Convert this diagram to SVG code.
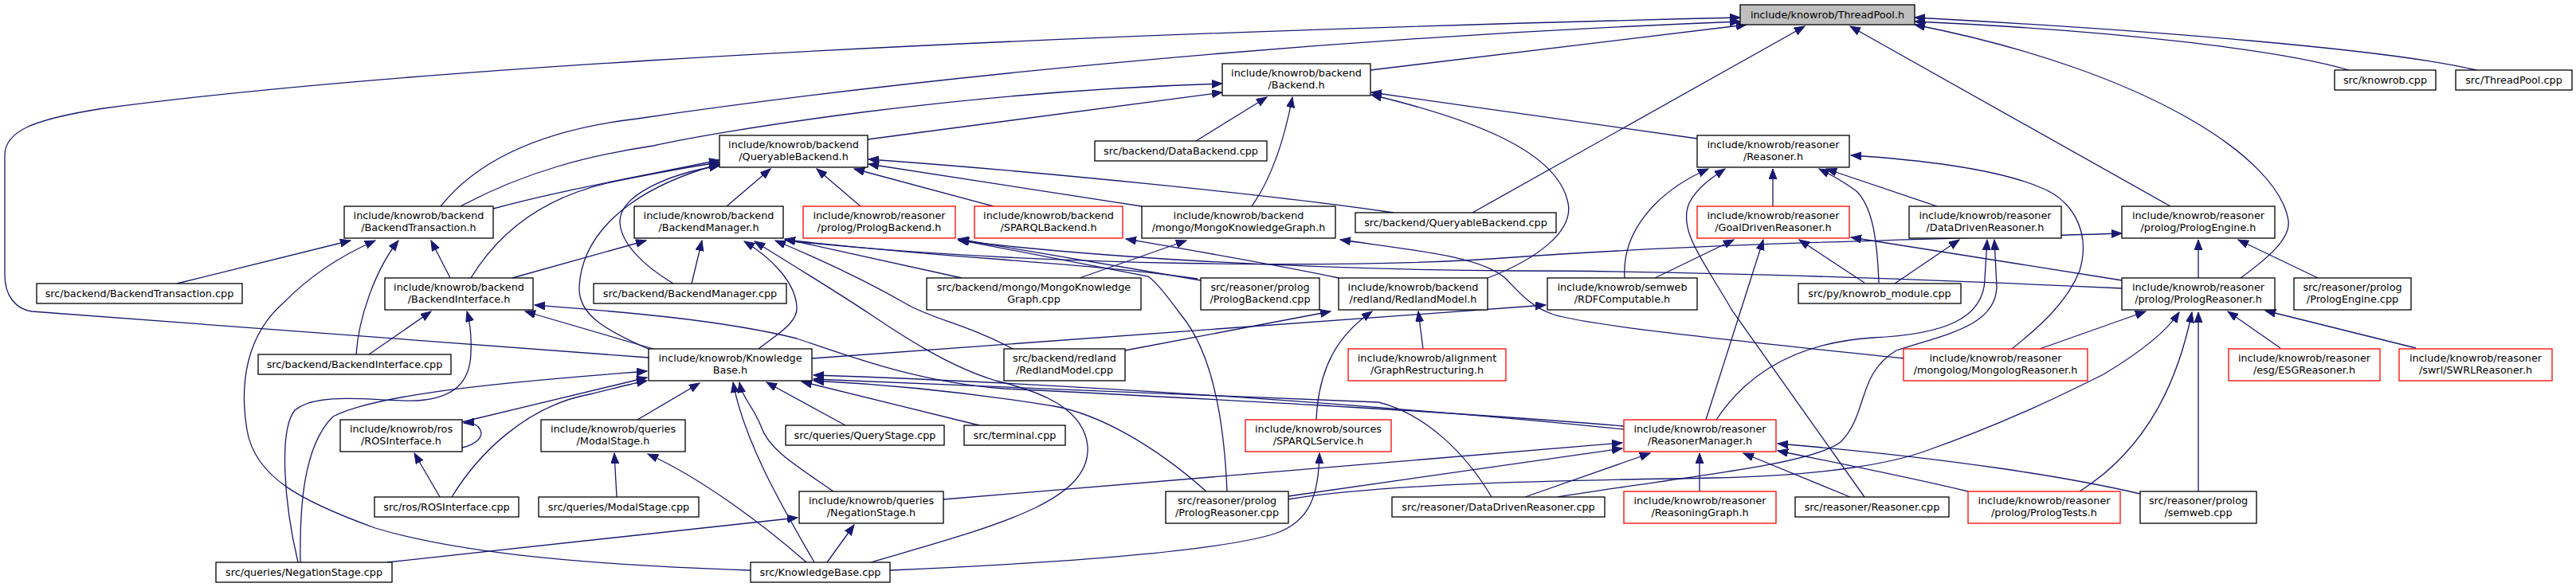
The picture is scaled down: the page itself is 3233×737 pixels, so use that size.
<svg xmlns="http://www.w3.org/2000/svg" width="3233" height="737" viewBox="0 0 3233 737">
<style>
.n rect{fill:#fff;stroke:#000;stroke-width:1.3}
.n.r rect{stroke:#f00}
.n.root rect{fill:#bfbfbf}
.n text{font-family:"DejaVu Sans",sans-serif;font-size:12.8px;text-anchor:middle;fill:#000}
#edges path{fill:none;stroke:#191970;stroke-width:1.3;marker-end:url(#a)}
</style>
<defs>
<marker id="a" markerUnits="userSpaceOnUse" markerWidth="14" markerHeight="11" refX="13" refY="5" orient="auto">
<path d="M0,0 L13,5 L0,10 Z" fill="#191970" stroke="#191970" stroke-width="1"/>
</marker>
</defs>
<rect width="3233" height="737" fill="#fff"/>
<g id="edges">
<path d="M814,449 L40,391 C20,388 6,372 6,345 L6,195 C6,165 40,150 130,136 C400,100 1000,50 2184,22"/>
<path d="M553,259 C600,200 680,163 800,149 C1100,105 1600,50 2184,27"/>
<path d="M1720,88 L2192,31"/>
<path d="M1848,267 L2265,33"/>
<path d="M2724,259 L2322,33"/>
<path d="M3108,88 C3000,62 2700,38 2403,22"/>
<path d="M2948,88 C2860,62 2650,38 2403,27"/>
<path d="M2812,349 C2845,325 2875,300 2872,277 C2860,200 2700,90 2403,31"/>
<path d="M578,259 C660,215 740,195 820,183 C900,165 1200,115 1534,105"/>
<path d="M1089,175 L1534,116"/>
<path d="M1501,177 L1590,122"/>
<path d="M1571,259 C1595,225 1612,175 1622,122"/>
<path d="M2130,174 L1721,116"/>
<path d="M1867,349 C1930,325 1975,290 1968,255 C1955,190 1850,150 1721,119"/>
<path d="M619,262 C700,240 800,222 903,201"/>
<path d="M912,259 L967,212"/>
<path d="M1080,259 L1025,212"/>
<path d="M1247,259 L1072,212"/>
<path d="M1433,259 L1090,206"/>
<path d="M1749,267 C1600,245 1300,215 1090,200"/>
<path d="M591,349 C630,285 690,245 770,228 C820,218 860,210 903,204"/>
<path d="M818,440 C760,415 725,395 727,360 C730,300 780,240 903,206"/>
<path d="M845,356 C805,332 780,305 778,280 C776,245 840,218 903,208"/>
<path d="M222,356 L440,302"/>
<path d="M942,716 C700,708 560,690 471,663 C380,630 320,600 310,540 C300,480 310,420 356,380 C390,345 430,320 471,302"/>
<path d="M447,445 C450,400 470,340 500,302"/>
<path d="M565,349 L541,302"/>
<path d="M643,349 L811,302"/>
<path d="M868,356 L881,302"/>
<path d="M952,438 C975,420 1002,405 1000,385 C998,355 970,325 934,303"/>
<path d="M1093,706 C1250,660 1370,630 1365,560 C1360,510 1300,490 1250,478 C1190,460 1130,420 1093,395 C1040,360 990,330 947,303"/>
<path d="M1271,438 C1220,410 1170,400 1140,383 C1100,360 1040,330 973,302"/>
<path d="M1207,349 L985,300"/>
<path d="M1503,350 C1400,335 1300,330 1260,326 C1150,318 1050,308 985,301"/>
<path d="M985,302 C1300,335 1700,338 1900,323 C2150,305 2450,300 2663,293"/>
<path d="M1507,352 L1202,300"/>
<path d="M1540,617 C1536,520 1520,440 1482,395 C1465,372 1452,355 1441,347 L1203,301"/>
<path d="M2663,362 C2400,350 2100,340 1900,340 C1600,338 1350,320 1203,302"/>
<path d="M1680,349 C1600,332 1500,315 1413,300"/>
<path d="M1355,349 L1489,302"/>
<path d="M2389,450 C2200,430 2000,410 1950,395 C1920,385 1905,365 1890,350 C1860,322 1780,315 1682,301"/>
<path d="M2077,349 L2176,301"/>
<path d="M2141,527 L2213,301"/>
<path d="M2340,355 L2258,301"/>
<path d="M2663,352 L2323,298"/>
<path d="M2039,349 C2035,290 2080,240 2144,212"/>
<path d="M2340,624 L2174,390 C2140,330 2105,290 2120,255 C2130,235 2150,222 2165,212"/>
<path d="M2225,259 L2225,212"/>
<path d="M2358,355 C2356,300 2350,260 2330,240 C2310,225 2295,218 2283,212"/>
<path d="M2431,259 L2292,212"/>
<path d="M2525,438 C2560,410 2594,380 2610,340 C2625,290 2600,250 2560,235 C2500,210 2400,200 2323,195"/>
<path d="M2378,356 L2459,301"/>
<path d="M2154,527 C2195,465 2260,430 2350,424 C2440,420 2490,400 2491,350 L2494,301"/>
<path d="M1955,624 C2100,600 2270,585 2310,555 C2345,520 2330,470 2380,440 C2440,420 2505,410 2506,360 L2503,301"/>
<path d="M2759,349 L2759,301"/>
<path d="M2909,349 L2809,301"/>
<path d="M2560,438 L2693,391"/>
<path d="M1616,627 C1750,605 2000,603 2150,600 C2300,597 2380,580 2420,565 C2520,530 2600,490 2640,470 C2690,440 2720,415 2735,392"/>
<path d="M2610,617 C2700,560 2735,470 2751,392"/>
<path d="M2759,617 L2759,392"/>
<path d="M2862,437 L2796,391"/>
<path d="M3032,437 L2843,390"/>
<path d="M1184,627 L2036,556"/>
<path d="M1617,623 L2036,563"/>
<path d="M1914,624 L2071,569"/>
<path d="M2133,617 L2133,569"/>
<path d="M2322,624 L2188,569"/>
<path d="M2686,620 C2600,600 2450,575 2231,557"/>
<path d="M2470,617 C2420,605 2350,590 2231,566"/>
<path d="M800,527 L878,481"/>
<path d="M1022,706 C990,650 935,560 920,480"/>
<path d="M1046,617 C1000,585 965,565 955,535 C945,510 932,500 928,480"/>
<path d="M1061,534 L962,480"/>
<path d="M1229,534 L1006,479"/>
<path d="M2038,539 C1700,505 1300,480 1021,471"/>
<path d="M1872,624 C1840,570 1790,520 1730,505 C1500,495 1200,485 1021,476"/>
<path d="M1514,617 C1450,560 1380,520 1323,510 C1200,490 1100,482 1021,478"/>
<path d="M377,706 C376,640 380,560 418,523 C480,490 700,475 812,466"/>
<path d="M579,530 L812,474"/>
<path d="M567,624 C600,570 660,510 740,495 C770,488 790,482 812,478"/>
<path d="M463,445 L541,391"/>
<path d="M820,438 L659,391"/>
<path d="M2038,535 C1800,515 1500,500 1260,488 C1150,480 1060,445 1000,425 C900,400 760,390 671,383"/>
<path d="M374,706 C356,630 350,540 370,515 C400,490 480,505 523,503 C570,500 590,480 591,443 C592,420 590,405 586,391"/>
<path d="M486,706 L1001,650"/>
<path d="M1038,706 L1072,659"/>
<path d="M774,624 L771,569"/>
<path d="M1012,706 C960,660 880,600 813,570"/>
<path d="M580,562 C598,558 607,548 603,540 C600,533 594,530 582,531"/>
<path d="M552,624 L520,569"/>
<path d="M1117,716 C1300,708 1520,695 1600,670 C1645,655 1655,620 1656,569"/>
<path d="M1412,440 L1670,391"/>
<path d="M1652,527 C1655,460 1680,420 1722,391"/>
<path d="M1786,438 L1780,391"/>
<path d="M1019,450 L1940,383"/>
</g>
<g id="n_TP" class="n root"><rect x="2184" y="6" width="219" height="25"/><text x="2293.5" y="23">include/knowrob/ThreadPool.h</text></g>
<g id="n_BE" class="n"><rect x="1534" y="80" width="186" height="40"/><text x="1627" y="96">include/knowrob/backend</text><text x="1627" y="110.5">/Backend.h</text></g>
<g id="n_KC" class="n"><rect x="2930" y="88" width="127" height="25"/><text x="2993.5" y="105">src/knowrob.cpp</text></g>
<g id="n_TPC" class="n"><rect x="3082" y="88" width="146" height="25"/><text x="3155" y="105">src/ThreadPool.cpp</text></g>
<g id="n_QB" class="n"><rect x="903" y="170" width="186" height="40"/><text x="996" y="186">include/knowrob/backend</text><text x="996" y="200.5">/QueryableBackend.h</text></g>
<g id="n_DBC" class="n"><rect x="1374" y="177" width="216" height="25"/><text x="1482" y="194">src/backend/DataBackend.cpp</text></g>
<g id="n_RS" class="n"><rect x="2130" y="170" width="191" height="40"/><text x="2225.5" y="186">include/knowrob/reasoner</text><text x="2225.5" y="200.5">/Reasoner.h</text></g>
<g id="n_BT" class="n"><rect x="432" y="259" width="187" height="40"/><text x="525.5" y="275">include/knowrob/backend</text><text x="525.5" y="289.5">/BackendTransaction.h</text></g>
<g id="n_BM" class="n"><rect x="796" y="259" width="187" height="40"/><text x="889.5" y="275">include/knowrob/backend</text><text x="889.5" y="289.5">/BackendManager.h</text></g>
<g id="n_PB" class="n r"><rect x="1008" y="259" width="191" height="40"/><text x="1103.5" y="275">include/knowrob/reasoner</text><text x="1103.5" y="289.5">/prolog/PrologBackend.h</text></g>
<g id="n_SB" class="n r"><rect x="1223" y="259" width="186" height="40"/><text x="1316" y="275">include/knowrob/backend</text><text x="1316" y="289.5">/SPARQLBackend.h</text></g>
<g id="n_MKG" class="n"><rect x="1433" y="259" width="243" height="40"/><text x="1554.5" y="275">include/knowrob/backend</text><text x="1554.5" y="289.5">/mongo/MongoKnowledgeGraph.h</text></g>
<g id="n_QBC" class="n"><rect x="1701" y="267" width="252" height="25"/><text x="1827" y="284">src/backend/QueryableBackend.cpp</text></g>
<g id="n_GDR" class="n r"><rect x="2130" y="259" width="191" height="40"/><text x="2225.5" y="275">include/knowrob/reasoner</text><text x="2225.5" y="289.5">/GoalDrivenReasoner.h</text></g>
<g id="n_DDR" class="n"><rect x="2396" y="259" width="191" height="40"/><text x="2491.5" y="275">include/knowrob/reasoner</text><text x="2491.5" y="289.5">/DataDrivenReasoner.h</text></g>
<g id="n_PE" class="n"><rect x="2663" y="259" width="192" height="40"/><text x="2759" y="275">include/knowrob/reasoner</text><text x="2759" y="289.5">/prolog/PrologEngine.h</text></g>
<g id="n_BTC" class="n"><rect x="46" y="356" width="258" height="25"/><text x="175" y="373">src/backend/BackendTransaction.cpp</text></g>
<g id="n_BI" class="n"><rect x="483" y="349" width="186" height="40"/><text x="576" y="365">include/knowrob/backend</text><text x="576" y="379.5">/BackendInterface.h</text></g>
<g id="n_BMC" class="n"><rect x="745" y="356" width="242" height="25"/><text x="866" y="373">src/backend/BackendManager.cpp</text></g>
<g id="n_MKGC" class="n"><rect x="1163" y="349" width="269" height="40"/><text x="1297.5" y="365">src/backend/mongo/MongoKnowledge</text><text x="1297.5" y="379.5">Graph.cpp</text></g>
<g id="n_PBC" class="n"><rect x="1507" y="349" width="149" height="40"/><text x="1581.5" y="365">src/reasoner/prolog</text><text x="1581.5" y="379.5">/PrologBackend.cpp</text></g>
<g id="n_RM" class="n"><rect x="1680" y="349" width="187" height="40"/><text x="1773.5" y="365">include/knowrob/backend</text><text x="1773.5" y="379.5">/redland/RedlandModel.h</text></g>
<g id="n_RDF" class="n"><rect x="1942" y="349" width="188" height="40"/><text x="2036" y="365">include/knowrob/semweb</text><text x="2036" y="379.5">/RDFComputable.h</text></g>
<g id="n_PY" class="n"><rect x="2257" y="356" width="204" height="25"/><text x="2359" y="373">src/py/knowrob_module.cpp</text></g>
<g id="n_PR" class="n"><rect x="2663" y="349" width="192" height="40"/><text x="2759" y="365">include/knowrob/reasoner</text><text x="2759" y="379.5">/prolog/PrologReasoner.h</text></g>
<g id="n_PEC" class="n"><rect x="2879" y="349" width="147" height="40"/><text x="2952.5" y="365">src/reasoner/prolog</text><text x="2952.5" y="379.5">/PrologEngine.cpp</text></g>
<g id="n_BIC" class="n"><rect x="324" y="445" width="242" height="25"/><text x="445" y="462">src/backend/BackendInterface.cpp</text></g>
<g id="n_KB" class="n"><rect x="814" y="438" width="205" height="40"/><text x="916.5" y="454">include/knowrob/Knowledge</text><text x="916.5" y="468.5">Base.h</text></g>
<g id="n_RMC" class="n"><rect x="1260" y="438" width="152" height="40"/><text x="1336" y="454">src/backend/redland</text><text x="1336" y="468.5">/RedlandModel.cpp</text></g>
<g id="n_GR" class="n r"><rect x="1692" y="438" width="198" height="40"/><text x="1791" y="454">include/knowrob/alignment</text><text x="1791" y="468.5">/GraphRestructuring.h</text></g>
<g id="n_MR" class="n r"><rect x="2389" y="438" width="231" height="40"/><text x="2504.5" y="454">include/knowrob/reasoner</text><text x="2504.5" y="468.5">/mongolog/MongologReasoner.h</text></g>
<g id="n_ESG" class="n r"><rect x="2797" y="438" width="190" height="40"/><text x="2892" y="454">include/knowrob/reasoner</text><text x="2892" y="468.5">/esg/ESGReasoner.h</text></g>
<g id="n_SWRL" class="n r"><rect x="3011" y="438" width="192" height="40"/><text x="3107" y="454">include/knowrob/reasoner</text><text x="3107" y="468.5">/swrl/SWRLReasoner.h</text></g>
<g id="n_ROS" class="n"><rect x="427" y="527" width="153" height="40"/><text x="503.5" y="543">include/knowrob/ros</text><text x="503.5" y="557.5">/ROSInterface.h</text></g>
<g id="n_MS" class="n"><rect x="679" y="527" width="181" height="40"/><text x="769.5" y="543">include/knowrob/queries</text><text x="769.5" y="557.5">/ModalStage.h</text></g>
<g id="n_QSC" class="n"><rect x="986" y="534" width="199" height="25"/><text x="1085.5" y="551">src/queries/QueryStage.cpp</text></g>
<g id="n_TC" class="n"><rect x="1210" y="534" width="127" height="25"/><text x="1273.5" y="551">src/terminal.cpp</text></g>
<g id="n_SPS" class="n r"><rect x="1563" y="527" width="183" height="40"/><text x="1654.5" y="543">include/knowrob/sources</text><text x="1654.5" y="557.5">/SPARQLService.h</text></g>
<g id="n_RMG" class="n r"><rect x="2038" y="527" width="191" height="40"/><text x="2133.5" y="543">include/knowrob/reasoner</text><text x="2133.5" y="557.5">/ReasonerManager.h</text></g>
<g id="n_ROSC" class="n"><rect x="470" y="624" width="181" height="25"/><text x="560.5" y="641">src/ros/ROSInterface.cpp</text></g>
<g id="n_MSC" class="n"><rect x="676" y="624" width="201" height="25"/><text x="776.5" y="641">src/queries/ModalStage.cpp</text></g>
<g id="n_NS" class="n"><rect x="1003" y="617" width="181" height="40"/><text x="1093.5" y="633">include/knowrob/queries</text><text x="1093.5" y="647.5">/NegationStage.h</text></g>
<g id="n_PRC" class="n"><rect x="1463" y="617" width="154" height="40"/><text x="1540" y="633">src/reasoner/prolog</text><text x="1540" y="647.5">/PrologReasoner.cpp</text></g>
<g id="n_DDRC" class="n"><rect x="1747" y="624" width="267" height="25"/><text x="1880.5" y="641">src/reasoner/DataDrivenReasoner.cpp</text></g>
<g id="n_RG" class="n r"><rect x="2038" y="617" width="191" height="40"/><text x="2133.5" y="633">include/knowrob/reasoner</text><text x="2133.5" y="647.5">/ReasoningGraph.h</text></g>
<g id="n_RC" class="n"><rect x="2253" y="624" width="193" height="25"/><text x="2349.5" y="641">src/reasoner/Reasoner.cpp</text></g>
<g id="n_PT" class="n r"><rect x="2470" y="617" width="191" height="40"/><text x="2565.5" y="633">include/knowrob/reasoner</text><text x="2565.5" y="647.5">/prolog/PrologTests.h</text></g>
<g id="n_SW" class="n"><rect x="2686" y="617" width="146" height="40"/><text x="2759" y="633">src/reasoner/prolog</text><text x="2759" y="647.5">/semweb.cpp</text></g>
<g id="n_NSC" class="n"><rect x="271" y="706" width="221" height="25"/><text x="381.5" y="723">src/queries/NegationStage.cpp</text></g>
<g id="n_KBC" class="n"><rect x="942" y="706" width="175" height="25"/><text x="1029.5" y="723">src/KnowledgeBase.cpp</text></g>
</svg>
